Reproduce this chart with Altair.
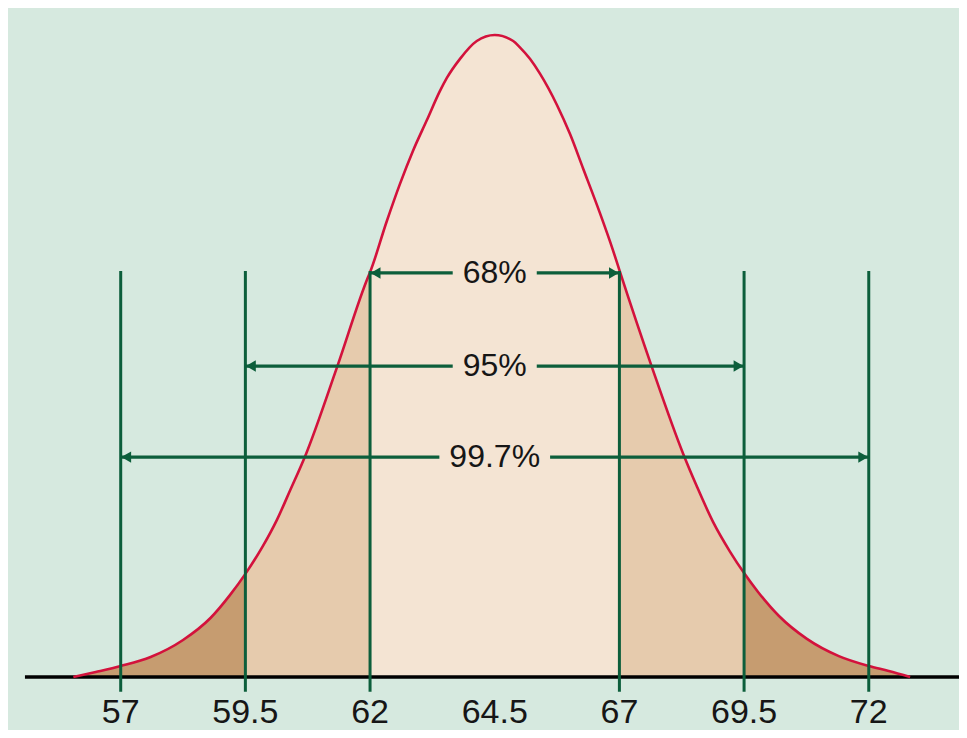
import altair as alt
import pandas as pd

# ---- data ----
# bell curve (heights as density, peak = 0.16)
curve_x = [56.05, 56.5, 57.0, 57.6, 58.25, 58.8, 59.19, 59.5, 59.85, 60.13, 60.40, 60.70,
           61.34, 61.96, 62.0, 62.33, 62.60, 62.86, 63.14, 63.40, 63.54, 63.80, 64.14, 64.5,
           64.87, 65.0, 65.21, 65.41, 65.75, 66.01, 66.27, 66.61, 66.87, 67.0, 67.65, 68.28,
           68.55, 68.88, 69.22, 69.5, 69.78, 70.2, 70.76, 71.4, 72.0, 72.4, 72.83]
curve_y = [0.0, 0.00125, 0.00274, 0.00498, 0.00922, 0.0147, 0.0204, 0.0257, 0.0326, 0.0391, 0.0466, 0.0551,
           0.0773, 0.0997, 0.1009, 0.1134, 0.1229, 0.1311, 0.1388, 0.1460, 0.1493, 0.1540, 0.1585, 0.1600,
           0.1585, 0.1570, 0.1540, 0.1503, 0.1425, 0.1353, 0.1268, 0.1156, 0.1064, 0.1014, 0.0773, 0.0556,
           0.0476, 0.0386, 0.0312, 0.0259, 0.0212, 0.0152, 0.0095, 0.0052, 0.00274, 0.0015, 0.0]

# shaded regions
region_edges = [56.05, 59.5, 62.0, 67.0, 69.5, 72.83]
region_colors = ["#c69c70", "#e6cbad", "#f4e4d3", "#e6cbad", "#c69c70"]

# vertical markers (mean +/- 1, 2, 3 sd)
marks_x = [57, 59.5, 62, 67, 69.5, 72]
marks_top = 0.1012
marks_bottom = -0.0037

# interval arrows
arrow_labels = ["68%", "95%", "99.7%"]
arrow_lo = [62, 59.5, 57]
arrow_hi = [67, 69.5, 72]
arrow_level = [0.1007, 0.0775, 0.0548]

# tick labels
tick_values = [57, 59.5, 62, 64.5, 67, 69.5, 72]
tick_labels = ["57", "59.5", "62", "64.5", "67", "69.5", "72"]

# ---- styling ----
BG = "#d6e9df"
GREEN = "#0c5e3b"
RED = "#d3123c"
FONT = "Liberation Sans"
PX_PER_UNIT = 49.87
W, H = 951, 722

xs = alt.Scale(domain=[54.74, 54.74 + W / PX_PER_UNIT], nice=False, zero=False)
ys = alt.Scale(domain=[-0.01321, 0.16673], nice=False, zero=False)

# ---- tables ----
rows = []
for i in range(len(region_colors)):
    lo, hi = region_edges[i], region_edges[i + 1]
    for x, y in zip(curve_x, curve_y):
        if lo - 1e-9 <= x <= hi + 1e-9:
            rows.append({"x": x, "y": y, "y0": 0.0, "region": f"r{i}"})
fill_df = pd.DataFrame(rows)
curve_df = pd.DataFrame({"x": curve_x, "y": curve_y})
vline_df = pd.DataFrame({"x": marks_x, "y": [marks_bottom] * len(marks_x), "y2": [marks_top] * len(marks_x)})


def text_width(s, size=32):
    w = 0
    for c in s:
        w += {"%": 0.889, ".": 0.278}.get(c, 0.556) * size
    return w


seg_rows = []
for lab, lo, hi, lev in zip(arrow_labels, arrow_lo, arrow_hi, arrow_level):
    mid = (lo + hi) / 2
    half = (text_width(lab) / 2 + 10) / PX_PER_UNIT
    seg_rows.append({"x": lo, "x2": mid - half, "y": lev})
    seg_rows.append({"x": mid + half, "x2": hi, "y": lev})
seg_df = pd.DataFrame(seg_rows)
arrow_df = pd.DataFrame({"label": arrow_labels, "lo": arrow_lo, "hi": arrow_hi, "y": arrow_level,
                         "mid": [(a + b) / 2 for a, b in zip(arrow_lo, arrow_hi)]})
tick_df = pd.DataFrame({"x": tick_values, "label": tick_labels, "y": [-0.0090] * len(tick_values)})
base_df = pd.DataFrame({"x": [55.08], "x2": [54.74 + W / PX_PER_UNIT], "y": [0.0]})

# ---- layers ----
fill = alt.Chart(fill_df).mark_area(opacity=1, interpolate="monotone").encode(
    x=alt.X("x:Q", scale=xs, axis=None),
    y=alt.Y("y:Q", scale=ys, axis=None, stack=None),
    y2="y0:Q",
    color=alt.Color("region:N", scale=alt.Scale(domain=[f"r{i}" for i in range(5)], range=region_colors),
                    legend=None),
)

baseline = alt.Chart(base_df).mark_rule(color="#000000", strokeWidth=3.5).encode(
    x=alt.X("x:Q", scale=xs, axis=None), x2="x2:Q", y=alt.Y("y:Q", scale=ys, axis=None)
)

curve = alt.Chart(curve_df).mark_line(color=RED, strokeWidth=2.6, interpolate="monotone").encode(
    x=alt.X("x:Q", scale=xs, axis=None), y=alt.Y("y:Q", scale=ys, axis=None), order="x:Q"
)

vlines = alt.Chart(vline_df).mark_rule(color=GREEN, strokeWidth=3).encode(
    x=alt.X("x:Q", scale=xs, axis=None), y=alt.Y("y:Q", scale=ys, axis=None), y2="y2:Q"
)

segs = alt.Chart(seg_df).mark_rule(color=GREEN, strokeWidth=3.2).encode(
    x=alt.X("x:Q", scale=xs, axis=None), x2="x2:Q", y=alt.Y("y:Q", scale=ys, axis=None)
)

head_l = alt.Chart(arrow_df).mark_point(shape="triangle-left", filled=True, opacity=1, color=GREEN,
                                        size=130, xOffset=5.5).encode(
    x=alt.X("lo:Q", scale=xs, axis=None), y=alt.Y("y:Q", scale=ys, axis=None)
)
head_r = alt.Chart(arrow_df).mark_point(shape="triangle-right", filled=True, opacity=1, color=GREEN,
                                        size=130, xOffset=-5.5).encode(
    x=alt.X("hi:Q", scale=xs, axis=None), y=alt.Y("y:Q", scale=ys, axis=None)
)

pct = alt.Chart(arrow_df).mark_text(font=FONT, fontSize=32, color="#161616", align="center",
                                    baseline="middle").encode(
    x=alt.X("mid:Q", scale=xs, axis=None), y=alt.Y("y:Q", scale=ys, axis=None), text="label:N"
)

ticks = alt.Chart(tick_df).mark_text(font=FONT, fontSize=34, color="#161616", align="center",
                                     baseline="middle").encode(
    x=alt.X("x:Q", scale=xs, axis=None), y=alt.Y("y:Q", scale=ys, axis=None), text="label:N"
)

chart = alt.layer(fill, baseline, curve, vlines, segs, head_l, head_r, pct, ticks).properties(
    width=W, height=H, padding=0, background=BG,
    autosize=alt.AutoSizeParams(type="none"),
).configure_view(stroke=None)

chart.save("out.html", embed_options={"renderer": "svg", "actions": False})
